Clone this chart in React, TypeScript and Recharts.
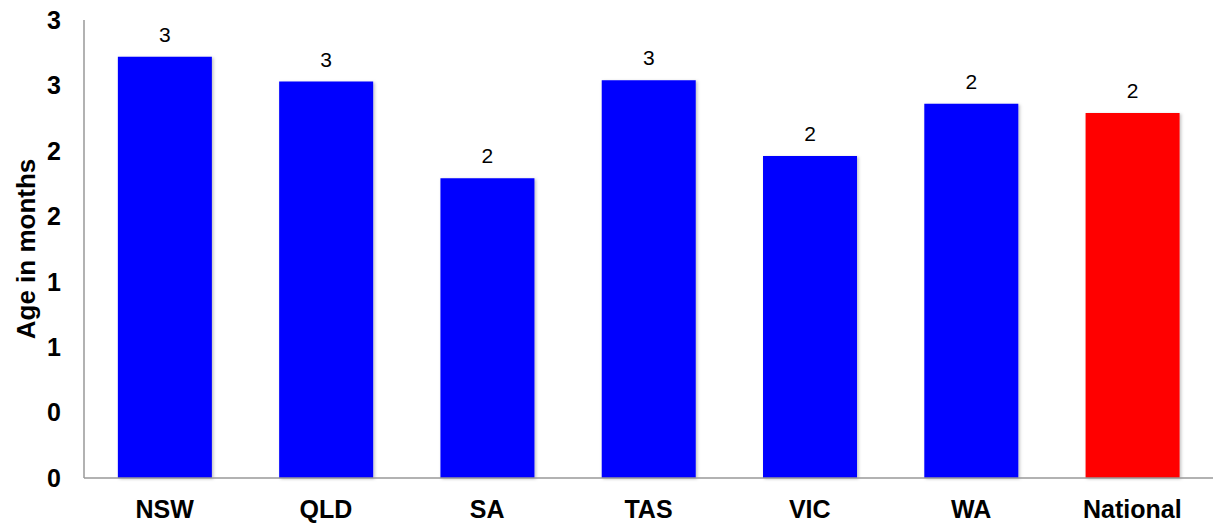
import { BarChart, Bar, XAxis, YAxis, Cell, LabelList } from 'recharts';

// Average age per state, in months
const states = ['NSW', 'QLD', 'SA', 'TAS', 'VIC', 'WA', 'National'];
const ageMonths = [3.22, 3.03, 2.29, 3.04, 2.46, 2.86, 2.79];
const yTicks = [0, 0.5, 1, 1.5, 2, 2.5, 3, 3.5];

const data = states.map((name, i) => ({ name, age: ageMonths[i] }));

const FONT = '"Liberation Sans", Arial, sans-serif';

const App = () => {
    return (
        <div style={{ position: 'absolute', left: 0, top: 0, width: 1214, height: 526, background: '#fff' }}>
            <BarChart
                width={1214}
                height={526}
                data={data}
                margin={{ top: 20, right: 1, left: 0, bottom: 0 }}
                barCategoryGap="21%"
            >
                <defs>
                    <filter id="barShadow" x="-10%" y="-10%" width="130%" height="130%">
                        <feDropShadow dx="1.5" dy="1" stdDeviation="1.5" floodColor="#000" floodOpacity="0.25" />
                    </filter>
                </defs>
                <XAxis
                    dataKey="name"
                    height={48}
                    axisLine={{ stroke: '#999', strokeWidth: 1.5 }}
                    tickLine={false}
                    tick={{ fill: '#000', fontSize: 25, fontWeight: 'bold', fontFamily: FONT }}
                    tickMargin={16}
                />
                <YAxis
                    width={84}
                    domain={[0, 3.5]}
                    ticks={yTicks}
                    interval={0}
                    axisLine={{ stroke: '#999', strokeWidth: 1.5 }}
                    tickLine={false}
                    tickSize={0}
                    tickMargin={23}
                    tickFormatter={(v: number) => String(Math.floor(v))}
                    tick={{ fill: '#000', fontSize: 25, fontWeight: 'bold', fontFamily: FONT }}
                    label={{
                        value: 'Age in months',
                        angle: -90,
                        position: 'insideLeft',
                        offset: 26,
                        style: { textAnchor: 'middle', fill: '#000', fontSize: 26, fontWeight: 'bold', fontFamily: FONT },
                    }}
                />
                <Bar dataKey="age" isAnimationActive={false} filter="url(#barShadow)">
                    {data.map((d) => (
                        <Cell key={d.name} fill={d.name === 'National' ? '#ff0000' : '#0000ff'} />
                    ))}
                    <LabelList
                        dataKey="age"
                        position="top"
                        offset={15}
                        formatter={(v: number) => String(Math.floor(v))}
                        style={{ fill: '#000', fontSize: 21, fontFamily: FONT }}
                    />
                </Bar>
            </BarChart>
        </div>
    );
};

export default App;
